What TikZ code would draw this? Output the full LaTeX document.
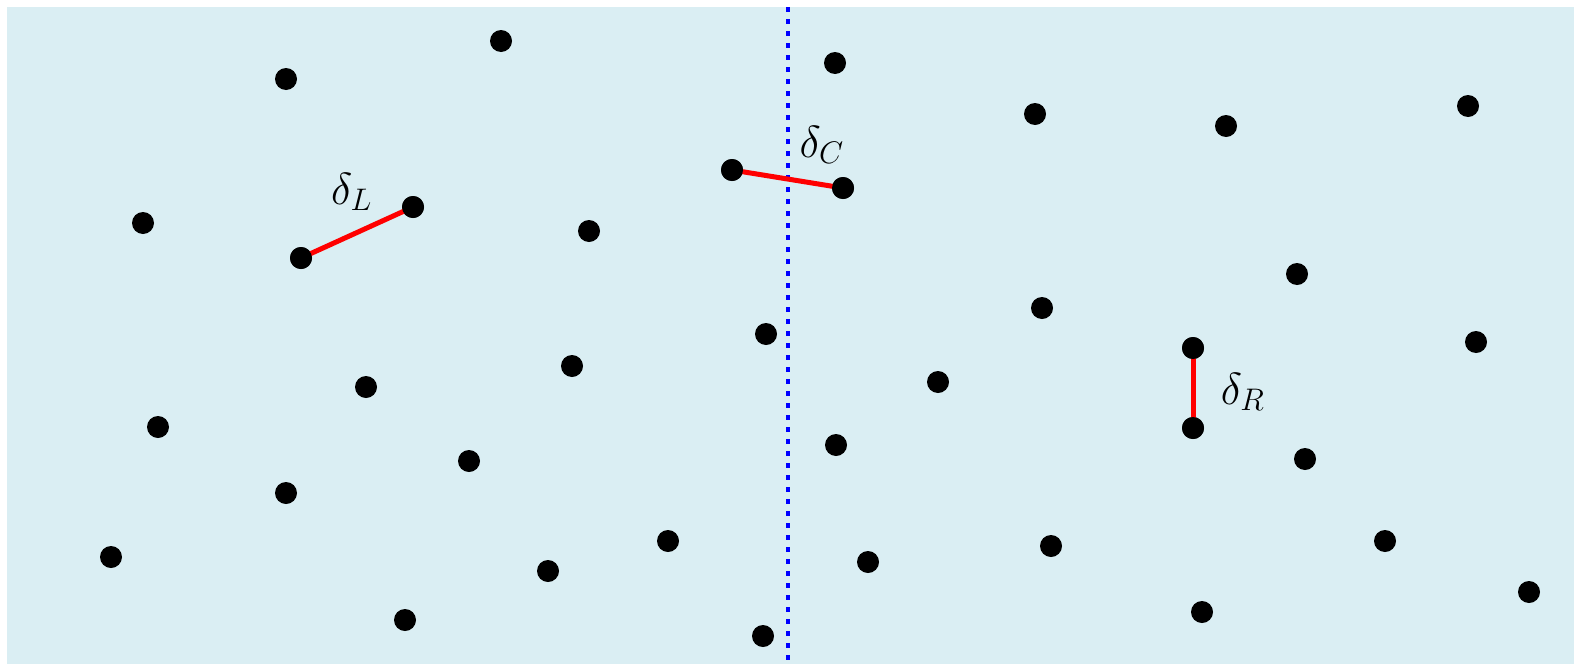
\documentclass[tikz,border=0pt]{standalone}
\usepackage{graphicx}
\newcommand{\biglab}[1]{\scalebox{2.6}{\LARGE$#1$}}
\begin{document}
\begin{tikzpicture}[x=1pt,y=-1pt,
  pt/.style={circle,fill=black,inner sep=0pt,minimum size=22pt},
  seg/.style={red,line width=5pt},
  lab/.style={inner sep=0pt}]
\definecolor{bgblue}{RGB}{218,238,243}
\useasboundingbox (0,0) rectangle (1574,664);
\fill[bgblue] (7,7) rectangle (1574,664);
\coordinate (mt) at (788,7);
\coordinate (mb) at (788,664);
\draw[blue,line width=4.5pt,dash pattern=on 5pt off 7pt] (mt) -- (mb);
\foreach \n/\x/\y in {a1/286/79,a2/501/41,a3/835/63,a4/1035/114,a5/1226/126,a6/1468/106,
  c1/732/170,c2/843/188,a9/143/223,l2/413/207,l1/301/258,a12/589/231,a13/1297/274,
  a14/1042/308,a15/766/334,r1/1193/348,r2/1193/428,a18/1476/342,a19/366/387,
  a20/572/366,a21/938/382,a22/158/427,a23/469/461,a24/836/445,a25/1305/459,
  a26/286/493,a27/111/557,a28/668/541,a29/548/571,a30/868/562,a31/1051/546,
  a32/1385/541,a33/1529/592,a34/405/620,a35/1202/612,a36/763/636}
  \node[pt] (\n) at (\x,\y) {};
\draw[seg] (l1.center) -- (l2.center);
\draw[seg] (c1.center) -- (c2.center);
\draw[seg] (r1.center) -- (r2.center);
\foreach \n in {l1,l2,c1,c2,r1,r2} \node[pt] at (\n) {};
\node[lab] (dl) at (352,192) {\biglab{\delta_L}};
\node[lab] (dc) at (822,145) {\biglab{\delta_C}};
\node[lab] (dr) at (1243,392) {\biglab{\delta_R}};
\end{tikzpicture}
\end{document}
